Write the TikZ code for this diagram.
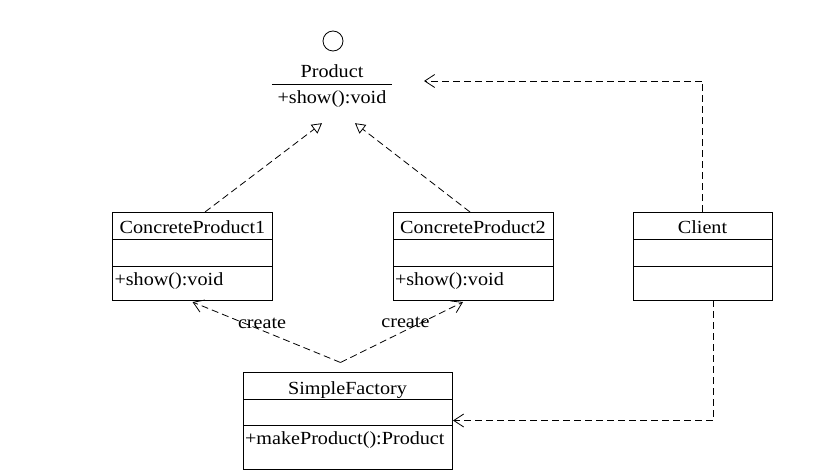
\documentclass[tikz,border=0pt]{standalone}
\usepackage{fontspec}
\setmainfont[FakeStretch=1.09]{Liberation Serif}
\usetikzlibrary{arrows.meta,positioning,calc}
\tikzset{
	cname/.style={rectangle,draw=black,line width=0.8pt,outer sep=0pt,inner sep=0pt,minimum height=27pt,text height=16pt,text depth=0pt},
	cattr/.style={rectangle,draw=black,line width=0.8pt,outer sep=0pt,inner sep=0pt,minimum height=27pt},
	cmeth/.style={rectangle,draw=black,line width=0.8pt,outer sep=0pt,inner xsep=2pt,inner ysep=3pt,text height=16pt,text depth=12pt,align=left},
	real/.style={-{Triangle[open,length=10pt,width=11pt]},line width=0.8pt,dash pattern=on 7pt off 4pt},
	dep/.style={-{Straight Barb[length=10pt,width=13pt]},line width=0.8pt,dash pattern=on 7pt off 4pt},
	lbl/.style={inner sep=0pt}
}

\begin{document}
\begin{tikzpicture}[x=1pt,y=-1pt,font=\fontsize{18.5pt}{22pt}\selectfont]
	\useasboundingbox (0,0) rectangle (821,476);
	% interface
	\node[circle,draw,line width=0.8pt,minimum size=20pt,inner sep=0pt] (iface) at (333,41) {};
	\node[inner sep=0pt,text height=12pt,text depth=0pt] (pname) at (332,72) {Product};
	\node[inner sep=0pt,minimum width=120pt,minimum height=26pt,text height=12pt,text depth=0pt] (pmeth) at (332,98) {+show():void};
	\draw[line width=0.8pt] (pmeth.north west) -- (pmeth.north east);
	
	% classes
	\node[cname,minimum width=160pt] (cp1n) at (192.5,225.5) {ConcreteProduct1};
	\node[cattr,minimum width=160pt,below=0pt of cp1n] (cp1a) {};
	\node[cmeth,text width=156pt,below=0pt of cp1a] (cp1m) {+show():void};
	
	\node[cname,minimum width=160pt] (cp2n) at (473,225.5) {ConcreteProduct2};
	\node[cattr,minimum width=160pt,below=0pt of cp2n] (cp2a) {};
	\node[cmeth,text width=156pt,below=0pt of cp2a] (cp2m) {+show():void};
	
	\node[cname,minimum width=139pt] (cln) at (702.5,225.5) {Client};
	\node[cattr,minimum width=139pt,below=0pt of cln] (cla) {};
	\node[cmeth,text width=135pt,below=0pt of cla] (clm) {};
	
	\node[cname,minimum width=209pt] (sfn) at (347.5,386) {SimpleFactory};
	\node[cattr,minimum width=209pt,minimum height=26pt,below=0pt of sfn] (sfa) {};
	\node[cmeth,text width=205pt,text depth=22pt,below=0pt of sfa] (sfm) {+makeProduct():Product};
	
	% connectors
	\coordinate (tip1) at ($(pmeth.south)+(-10,12)$);
	\coordinate (tip2) at ($(pmeth.south)+(23,12)$);
	\coordinate (pin) at (424,81);
	\coordinate (cout) at ($(clm.south)+(10.5,0)$);
	\coordinate (sfin) at ($(sfm.north east)+(1,-5)$);
	\coordinate (fout) at ($(sfn.north)+(-7,-10)$);
	\coordinate (c1in) at ($(cp1m.south)+(0,2)$);
	\coordinate (c2in) at ($(cp2m.south)+(-10,2)$);
	
	\draw[real] ($(cp1n.north)+(12.5,0)$) -- (tip1);
	\draw[real] ($(cp2n.north)+(-3,0)$) -- (tip2);
	\draw[dep] (cln.north) |- (pin);
	\draw[dep] (cout) |- (sfin);
	\draw[dep] (fout) -- node[lbl,pos=0.53,above=1pt] (lbl1) {create} (c1in);
	\draw[dep] (fout) -- node[lbl,pos=0.53,above=2pt] (lbl2) {create} (c2in);
\end{tikzpicture}
\end{document}
